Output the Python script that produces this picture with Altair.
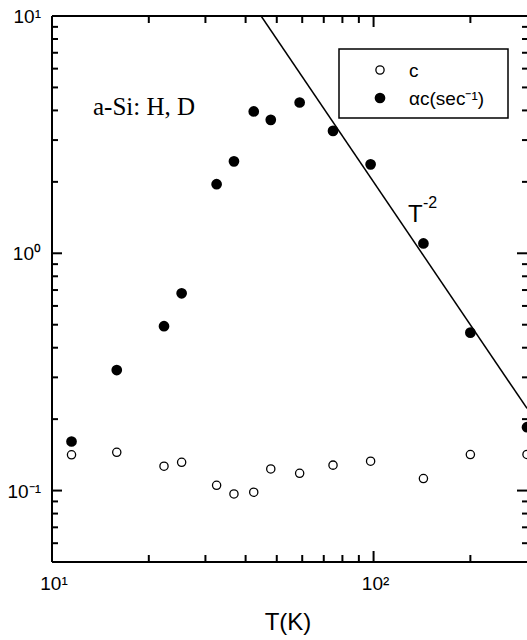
import altair as alt
import pandas as pd

# ---- data ----
T_vals = [11.5, 15.9, 22.3, 25.3, 32.5, 36.8, 42.4, 47.9, 58.9, 74.8, 97.9, 142.9, 200.0, 300.0]
c_vals = [0.1415, 0.145, 0.1267, 0.1316, 0.1052, 0.0968, 0.0984, 0.1234, 0.1183, 0.128, 0.133, 0.1124, 0.1419, 0.142]
ac_vals = [0.161, 0.322, 0.493, 0.678, 1.955, 2.44, 3.96, 3.65, 4.32, 3.28, 2.37, 1.10, 0.463, 0.185]

line_T = [44.7, 300.0]          # T^-2 guide line end points
line_y = [10.0, 0.222]

x_major = [10, 100]
x_major_labels = ["10¹", "10²"]
x_minor = [20, 30, 40, 50, 60, 70, 80, 90, 200]
y_major = [0.1, 1, 10]
y_major_labels = ["10⁻¹", "10⁰", "10¹"]
y_minor = [0.06, 0.07, 0.08, 0.09, 0.2, 0.3, 0.4, 0.5, 0.6, 0.7, 0.8, 0.9,
           2, 3, 4, 5, 6, 7, 8, 9]

x_title = "T(K)"
legend_labels = ["c", "αc(sec⁻¹)"]
annotation = "a-Si: H, D"

# ---- layout ----
W, H = 475, 546
FONT = "Liberation Sans"

xs = alt.Scale(type="log", domain=[10, 300], nice=False)
ys = alt.Scale(type="log", domain=[0.05, 10], nice=False)

df = pd.DataFrame({"T": T_vals, "c": c_vals, "ac": ac_vals})
line_df = pd.DataFrame({"T": line_T, "y": line_y})
one = pd.DataFrame({"a": [0]})

guide = alt.Chart(line_df).mark_line(color="black", strokeWidth=1.5, clip=True).encode(
    x=alt.X("T:Q", scale=xs, axis=None),
    y=alt.Y("y:Q", scale=ys, axis=None),
)

open_pts = alt.Chart(df).mark_point(shape="circle", filled=False, color="black",
                                    strokeWidth=1.3, size=68, opacity=1).encode(
    x=alt.X("T:Q", scale=xs, axis=None),
    y=alt.Y("c:Q", scale=ys, axis=None),
)

filled_pts = alt.Chart(df).mark_circle(color="black", size=115, opacity=1).encode(
    x=alt.X("T:Q", scale=xs, axis=None),
    y=alt.Y("ac:Q", scale=ys, axis=None),
)

# frame lines (left, bottom, top)
frame = alt.layer(
    alt.Chart(one).mark_rule(color="black", strokeWidth=2).encode(
        x=alt.value(0), y=alt.value(0), y2=alt.value(H)),
    alt.Chart(one).mark_rule(color="black", strokeWidth=2).encode(
        x=alt.value(0), x2=alt.value(W), y=alt.value(H)),
    alt.Chart(one).mark_rule(color="black", strokeWidth=2).encode(
        x=alt.value(0), x2=alt.value(W), y=alt.value(0)),
)


def yticks(vals, x0, x1):
    d = pd.DataFrame({"v": vals})
    return alt.Chart(d).mark_rule(color="black", strokeWidth=2).encode(
        y=alt.Y("v:Q", scale=ys, axis=None), x=alt.value(x0), x2=alt.value(x1))


def xticks(vals, y0, y1):
    d = pd.DataFrame({"v": vals})
    return alt.Chart(d).mark_rule(color="black", strokeWidth=2).encode(
        x=alt.X("v:Q", scale=xs, axis=None), y=alt.value(y0), y2=alt.value(y1))


ticks = alt.layer(
    yticks(y_major, 0, 10), yticks(y_minor, 0, 6),
    yticks(y_major, W - 10, W), yticks(y_minor, W - 5, W),
    xticks(x_major, H, H - 11), xticks(x_minor, H, H - 7),
    xticks(x_major, 0, 11), xticks(x_minor, 0, 7),
)

# tick labels and axis title
ylab = alt.Chart(pd.DataFrame({"v": y_major, "t": y_major_labels})).mark_text(
    font=FONT, fontSize=19, align="right", baseline="middle", color="black", dy=1).encode(
    y=alt.Y("v:Q", scale=ys, axis=None), x=alt.value(-11), text="t:N")
xlab = alt.Chart(pd.DataFrame({"v": x_major, "t": x_major_labels})).mark_text(
    font=FONT, fontSize=19, align="center", baseline="top", color="black", dx=2).encode(
    x=alt.X("v:Q", scale=xs, axis=None), y=alt.value(H + 13), text="t:N")
xtitle = alt.Chart(one).mark_text(font=FONT, fontSize=24, align="center",
                                  baseline="alphabetic", color="black", text=x_title).encode(
    x=alt.value(236), y=alt.value(H + 68))

# annotations
ann = alt.Chart(one).mark_text(font="Liberation Serif", fontSize=25, align="left",
                               baseline="alphabetic", color="black", text=annotation).encode(
    x=alt.value(41), y=alt.value(99))
t_main = alt.Chart(one).mark_text(font=FONT, fontSize=24, align="left",
                                  baseline="alphabetic", color="black", text="T").encode(
    x=alt.value(356), y=alt.value(206))
t_sup = alt.Chart(one).mark_text(font=FONT, fontSize=16, align="left",
                                 baseline="alphabetic", color="black", text="-2").encode(
    x=alt.value(371), y=alt.value(192))

# legend
leg_box = alt.Chart(one).mark_rect(fill="white", stroke="black", strokeWidth=1.5).encode(
    x=alt.value(287), x2=alt.value(456), y=alt.value(33), y2=alt.value(102))
leg_open = alt.Chart(one).mark_point(shape="circle", filled=False, color="black",
                                     strokeWidth=1.3, size=68, opacity=1).encode(
    x=alt.value(328), y=alt.value(54))
leg_fill = alt.Chart(one).mark_circle(color="black", size=115, opacity=1).encode(
    x=alt.value(328), y=alt.value(82))
leg_t1 = alt.Chart(one).mark_text(font=FONT, fontSize=19, align="left", baseline="middle",
                                  color="black", text=legend_labels[0]).encode(
    x=alt.value(357), y=alt.value(55))
leg_t2 = alt.Chart(one).mark_text(font=FONT, fontSize=19, align="left", baseline="middle",
                                  color="black", text=legend_labels[1]).encode(
    x=alt.value(357), y=alt.value(83))

chart = alt.layer(
    guide, open_pts, filled_pts, frame, ticks, ylab, xlab, xtitle, ann, t_main, t_sup,
    leg_box, leg_open, leg_fill, leg_t1, leg_t2,
).properties(
    width=W, height=H,
    autosize=alt.AutoSizeParams(type="none"),
    padding={"left": 52, "top": 16, "right": 0, "bottom": 78},
).configure_view(strokeWidth=0)

chart.save("out.html", embed_options={"renderer": "svg", "actions": False})
